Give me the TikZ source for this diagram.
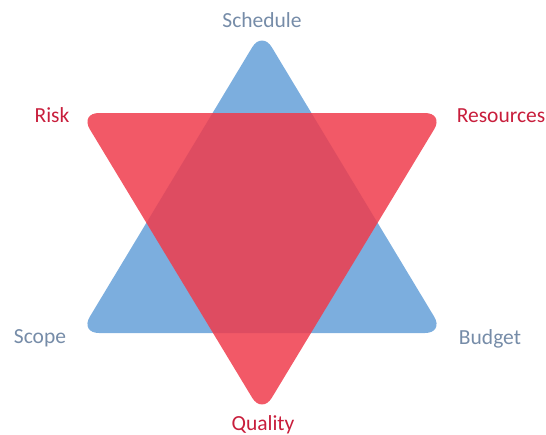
\documentclass[tikz,border=0pt]{standalone}
\usepackage{fontspec}
\setmainfont{Carlito}
\definecolor{triblue}{RGB}{124,174,222}
\definecolor{trired}{RGB}{240,60,76}
\definecolor{lblblue}{RGB}{118,140,168}
\definecolor{lblred}{RGB}{200,30,60}
\begin{document}
\begin{tikzpicture}[x=1pt,y=-1pt,
  bluelbl/.style={text=lblblue,font=\fontsize{21.5}{24}\selectfont,anchor=base,inner sep=0pt},
  redlbl/.style={text=lblred,font=\fontsize{21.5}{24}\selectfont,anchor=base,inner sep=0pt},
  tri/.style={rounded corners=19pt}]
\useasboundingbox (0,0) rectangle (546,434);
% blue upward triangle
\fill[triblue,tri] (171,333) -- (444,333) -- (262,31) -- (80,333) -- (171,333);
% red downward triangle
\fill[trired,fill opacity=0.85,tri] (171,113) -- (80,113) -- (262,414) -- (444,113) -- (171,113);
\node[bluelbl] (schedule) at (262,27) {Schedule};
\node[redlbl] (risk) at (52,122) {Risk};
\node[redlbl] (resources) at (501,122) {Resources};
\node[bluelbl] (scope) at (40,343) {Scope};
\node[bluelbl] (budget) at (490,344) {Budget};
\node[redlbl] (quality) at (263,430) {Quality};
\end{tikzpicture}
\end{document}
